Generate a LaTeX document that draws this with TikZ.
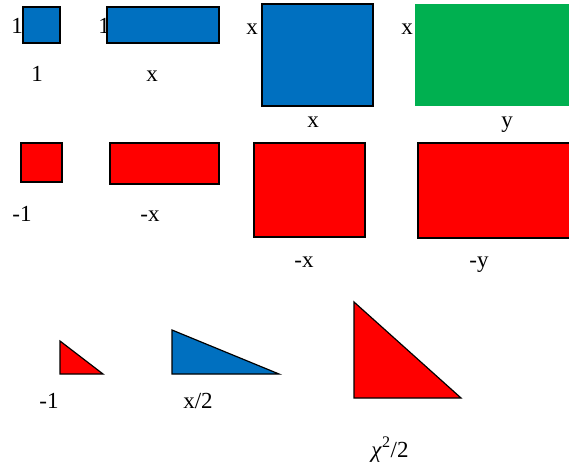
\documentclass[tikz,border=0pt]{standalone}
\usepackage{fontspec}
\setmainfont{Liberation Serif}
\definecolor{oblue}{HTML}{0070C0}
\definecolor{ogreen}{HTML}{00B050}
\definecolor{ored}{HTML}{FF0000}
\tikzset{
  lbl/.style={inner sep=0pt, anchor=base, font=\fontsize{23}{26}\selectfont},
  bluebox/.style={fill=oblue, draw=black, line width=1.4pt},
  redbox/.style={fill=ored, draw=black, line width=1.4pt},
  greenbox/.style={fill=ogreen, draw=none}
}
\begin{document}
\begin{tikzpicture}[x=1pt,y=-1pt]
\useasboundingbox[fill=white] (0,0) rectangle (569,466);
% row 1 labels
\node[lbl] (l1a) at (17,33) {1};
\node[lbl] (l1b) at (104,33) {1};
\node[lbl] (l1c) at (252,34) {x};
\node[lbl] (l1d) at (407,34) {x};
\node[lbl] (b1a) at (37,81) {1};
\node[lbl] (b1b) at (152,81) {x};
\node[lbl] (b1c) at (313,127) {x};
\node[lbl] (b1d) at (507,127) {y};
% row 1 shapes
\draw[bluebox] (23,7) rectangle (60,43);
\draw[bluebox] (107,7) rectangle (219,43);
\draw[bluebox] (262,4) rectangle (373,106);
\fill[ogreen] (415,4) rectangle (569,106);
% row 2 shapes
\draw[redbox] (21,143) rectangle (62,182);
\draw[redbox] (110,143) rectangle (219,184);
\draw[redbox] (254,143) rectangle (365,237);
\draw[redbox] (418,143) rectangle (572,238);
% row 2 labels
\node[lbl] (b2a) at (22,221) {-1};
\node[lbl] (b2b) at (150,221) {-x};
\node[lbl] (b2c) at (304,267) {-x};
\node[lbl] (b2d) at (479,267) {-y};
% row 3 shapes
\draw[redbox, line width=1.2pt] (60,341) -- (103,374) -- (60,374) -- cycle;
\draw[bluebox, line width=1.2pt] (172,330) -- (279,374) -- (172,374) -- cycle;
\draw[redbox, line width=1.2pt] (354,302) -- (461,398) -- (354,398) -- cycle;
% row 3 labels
\node[lbl] (b3a) at (49,408) {-1};
\node[lbl] (b3b) at (198,408) {x/2};
\node[lbl] (b3c) at (390,457) {\textit{χ}\textsuperscript{2}/2};
\end{tikzpicture}
\end{document}
